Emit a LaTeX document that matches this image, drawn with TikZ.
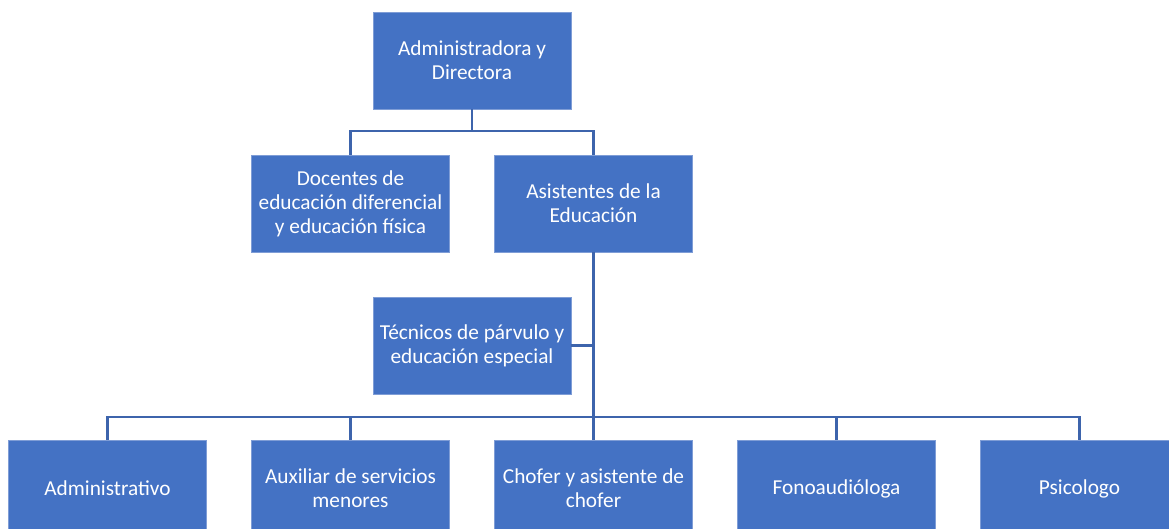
\documentclass[tikz,border=0pt]{standalone}
\usepackage{fontspec}
\setmainfont{Carlito}
\definecolor{boxblue}{HTML}{4472C4}
\definecolor{boxedge}{HTML}{7F9DD6}
\definecolor{linkblue}{HTML}{3D64AC}
\begin{document}
\begin{tikzpicture}[x=1pt,y=-1pt,
  orgbox/.style={rectangle, fill=boxblue, draw=boxedge, line width=0.6pt,
    minimum width=198pt, minimum height=97pt, inner sep=1pt,
    text=white, align=center, font=\fontsize{21.3}{24}\selectfont},
  link/.style={draw=linkblue, line width=2.8pt}]
\useasboundingbox (0,0) rectangle (1169,529);
\clip (0,0) rectangle (1169,529);
\node[orgbox] (top) at (472,60.5) {Administradora y\\Directora};
\node[orgbox] (doc) at (350.5,203.5) {Docentes de\\educación diferencial\\y educación física};
\node[orgbox] (asis) at (593.5,203.5) {Asistentes de la\\Educación};
\node[orgbox] (tec) at (472,345.5) {Técnicos de párvulo y\\educación especial};
\node[orgbox] (b1) at (107.5,488.5) {Administrativo};
\node[orgbox] (b2) at (350.5,488.5) {Auxiliar de servicios\\menores};
\node[orgbox] (b3) at (593.5,488.5) {Chofer y asistente de\\chofer};
\node[orgbox] (b4) at (836.5,488.5) {Fonoaudióloga};
\node[orgbox] (b5) at (1079.5,488.5) {Psicologo};
\coordinate (j1) at (472,131);
\coordinate (j2) at (593.5,417);
\draw[link] (top.south) -- (j1);
\draw[link] (doc.north) |- (j1) -| (asis.north);
\draw[link] (asis.south) -- (b3.north);
\draw[link] (tec.east) -- (tec.east -| asis.south);
\draw[link] (b1.north) |- (j2) -| (b5.north);
\draw[link] (b2.north) -- (b2.north |- j2);
\draw[link] (b4.north) -- (b4.north |- j2);
\end{tikzpicture}
\end{document}
